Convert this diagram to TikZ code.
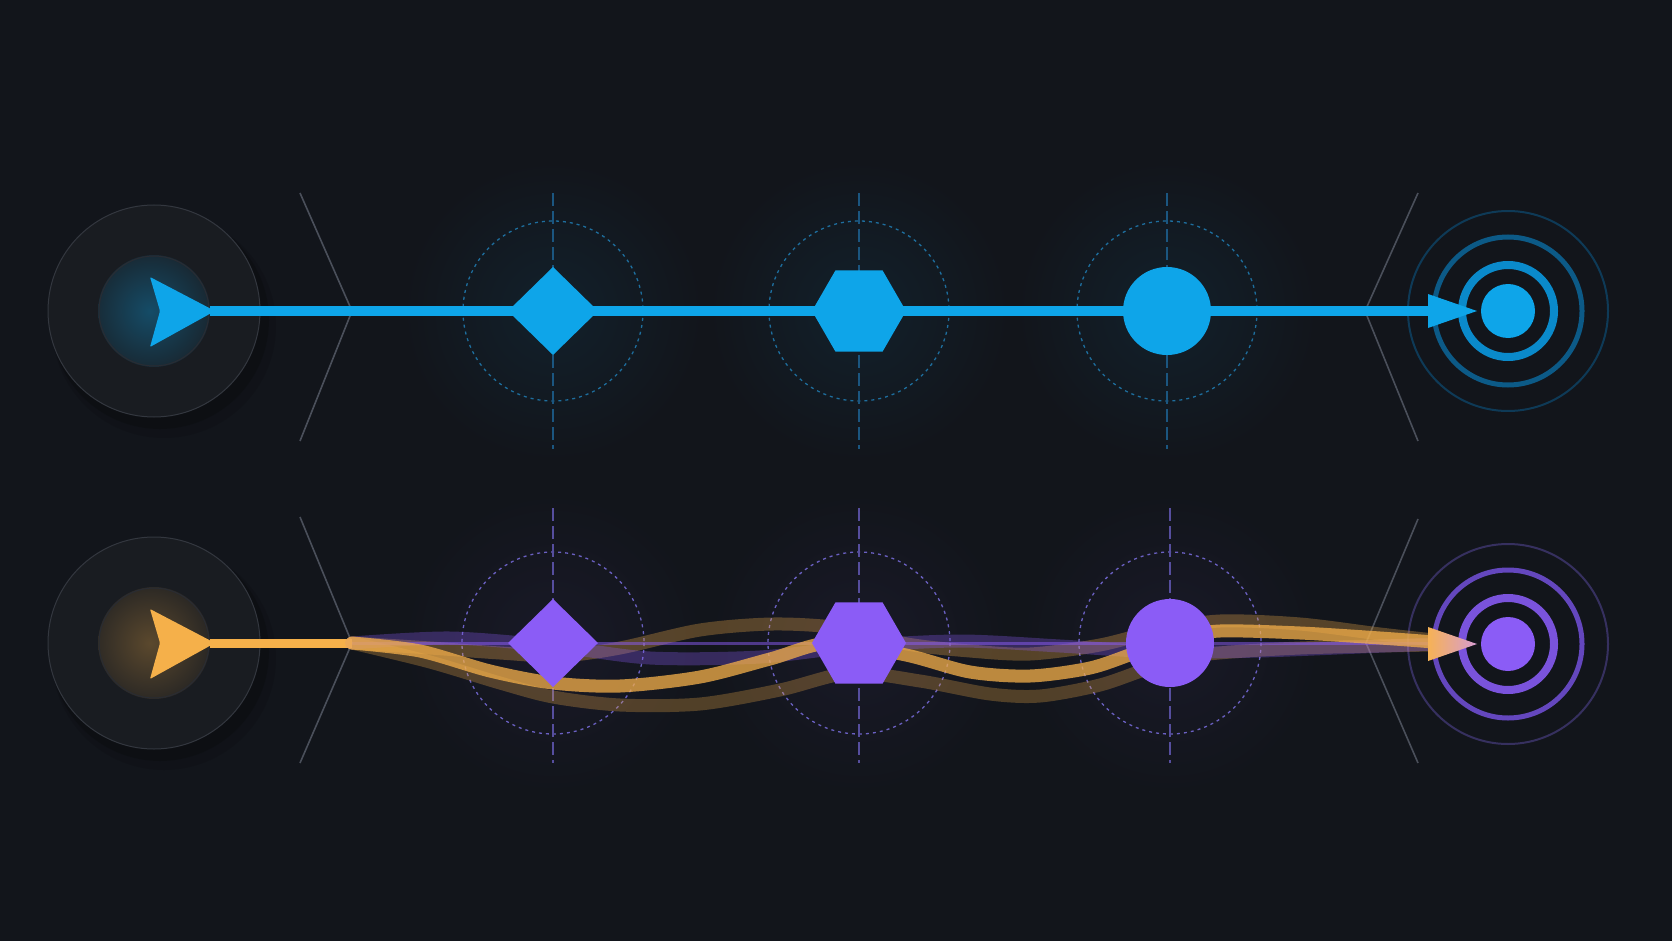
\documentclass[tikz,border=0pt]{standalone}
\usepackage{tikz}
\usetikzlibrary{shapes.geometric}
\definecolor{bgc}{HTML}{12151B}
\definecolor{discc}{HTML}{191C21}
\definecolor{discedge}{HTML}{33373F}
\definecolor{chevc}{HTML}{4A4F5A}
\definecolor{bluc}{HTML}{0EA5E9}
\definecolor{purc}{HTML}{8B5CF6}
\definecolor{orac}{HTML}{F5B04A}
\definecolor{bdash}{HTML}{1E6E9E}
\definecolor{bvert}{HTML}{1B5680}
\definecolor{pdash}{HTML}{6A60C2}
\definecolor{pvert}{HTML}{564E9E}
\definecolor{bring1}{HTML}{0A8ACB}
\definecolor{bring2}{HTML}{0C5A87}
\definecolor{bring3}{HTML}{0E3A57}
\definecolor{pring1}{HTML}{7A53DC}
\definecolor{pring2}{HTML}{6447BE}
\definecolor{pring3}{HTML}{36305F}

\begin{document}
\begin{tikzpicture}[x=1pt,y=-1pt]
\tikzstyle{every node}+=[inner sep=0pt,outer sep=0pt]
\tikzstyle{chev}=[chevc,line width=1.6pt]
\tikzstyle{bdashc}=[bdash,line width=1.3pt,dash pattern=on 3pt off 4pt]
\tikzstyle{bvline}=[bvert,line width=1.2pt,dash pattern=on 13pt off 5pt]
\tikzstyle{pdashc}=[pdash,line width=1.3pt,dash pattern=on 3pt off 4pt]
\tikzstyle{pvline}=[pvert,line width=1.2pt,dash pattern=on 13pt off 5pt]
\tikzstyle{disc}=[circle,fill=discc,draw=discedge,line width=1pt,minimum size=212pt]
\tikzstyle{strand}=[line width=13pt,line cap=round]
\fill [bgc] (0,0) rectangle (1672,941);
\useasboundingbox (0,0) rectangle (1672,941);
\shade [inner color=bluc!8!bgc, outer color=bgc] (553,311) circle (150);
\shade [inner color=bluc!8!bgc, outer color=bgc] (859,311) circle (150);
\shade [inner color=bluc!8!bgc, outer color=bgc] (1167,311) circle (150);
\shade [inner color=purc!6!bgc, outer color=bgc] (553,643) circle (150);
\shade [inner color=purc!6!bgc, outer color=bgc] (859,643) circle (150);
\shade [inner color=purc!6!bgc, outer color=bgc] (1170,643) circle (150);
\fill [black,opacity=0.15] (160,320) circle (109);
\fill [black,opacity=0.1] (164,326) circle (112);
\fill [black,opacity=0.15] (160,652) circle (109);
\fill [black,opacity=0.1] (164,658) circle (112);
\node [disc] (startA) at (154,311) {};
\node [disc] (startB) at (154,643) {};
\begin{scope}
\clip (startA) circle (56);
\shade [inner color=bluc!35!discc, outer color=discc] (150,311) circle (80);
\end{scope}
\begin{scope}
\clip (startB) circle (56);
\shade [inner color=orac!30!discc, outer color=discc] (150,643) circle (80);
\end{scope}
\draw [discedge!60!discc, line width=1pt] (startA) circle (55);
\draw [discedge!60!discc, line width=1pt] (startB) circle (55);
\draw [chev] (300,193) -- (352,311) -- (300,441);
\draw [chev] (1418,193) -- (1365,311) -- (1418,441);
\draw [chev] (300,517) -- (352,643) -- (300,763);
\draw [chev] (1418,519) -- (1366,643) -- (1418,763);
\draw [bdashc] (553,311) circle (90);
\draw [bdashc] (859,311) circle (90);
\draw [bdashc] (1167,311) circle (90);
\draw [bvline] (553,193) -- (553,449);
\draw [bvline] (859,193) -- (859,449);
\draw [bvline] (1167,193) -- (1167,449);
\draw [pdashc] (553,643) circle (91);
\draw [pdashc] (859,643) circle (91);
\draw [pdashc] (1170,643) circle (91);
\draw [pvline] (553,508) -- (553,763);
\draw [pvline] (859,508) -- (859,763);
\draw [pvline] (1170,508) -- (1170,763);
\draw [bring3, line width=2pt] (1508,311) circle (100);
\draw [bring2, line width=5pt] (1508,311) circle (74);
\draw [bring1, line width=8pt] (1508,311) circle (46);
\draw [pring3, line width=2pt] (1508,644) circle (100);
\draw [pring2, line width=5pt] (1508,644) circle (74);
\draw [pring1, line width=8pt] (1508,644) circle (46);
\node [circle, fill=bluc, minimum size=54pt] (tgtA) at (1508,311) {};
\node [circle, fill=purc, minimum size=54pt] (tgtB) at (1508,644) {};
\fill [bluc, rounded corners=1pt] (215,311) -- (150,277) -- (160,311) -- (150,347) -- cycle;
\fill [orac, rounded corners=1pt] (215,643) -- (150,609) -- (160,643) -- (150,679) -- cycle;
\coordinate (playA) at (210,311);
\coordinate (playB) at (210,643);
\coordinate (forkB) at (352,643);
\coordinate (joinB) at (1434,643);
\draw [bluc, line width=10pt, shorten >=48pt] (playA) -- (tgtA);
\fill [bluc] ([xshift=-4pt]tgtA.west) -- ++(-49,-17) -- ++(0,34) -- cycle;
\draw [orac, line width=9pt] (playB) -- (forkB);
\draw [strand, orac, opacity=0.28] plot [smooth] coordinates {(352,643) (430,662) (500,683) (553,697) (620,705) (700,704) (780,690) (850,673) (920,681) (990,694) (1040,696) (1100,685) (1150,668) (1200,655) (1300,648) (1434,645)};
\draw [strand, orac, opacity=0.3] plot [smooth] coordinates {(352,643) (430,648) (500,653) (560,656) (620,648) (700,630) (773,624) (840,628) (907,644) (970,651) (1030,654) (1100,645) (1160,630) (1220,621) (1300,624) (1380,634) (1434,640)};
\draw [strand, purc, opacity=0.3] plot [smooth] coordinates {(352,643) (450,638) (553,646) (650,658) (760,657) (860,646) (960,641) (1060,646) (1160,652) (1260,651) (1360,647) (1434,644)};
\draw [purc, opacity=0.5, line width=3pt] (forkB) -- (joinB);
\draw [strand, orac, opacity=0.75] plot [smooth] coordinates {(352,643) (420,651) (490,671) (553,683) (620,686) (700,677) (770,659) (830,643) (906,655) (970,672) (1030,676) (1090,668) (1135,653) (1180,638) (1220,631) (1300,633) (1380,638) (1434,642)};
\shade [left color=orac!90!pink, right color=purc!35!pink] ([xshift=-4pt]tgtB.west) -- ++(-49,-17) -- ++(0,34) -- cycle;
\node [diamond, fill=bluc, minimum width=90pt, minimum height=88pt] (dmA) at (553,311) {};
\node [regular polygon, regular polygon sides=6, fill=bluc, minimum size=94pt] (hxA) at (859,311) {};
\node [circle, fill=bluc, minimum size=88pt] (ciA) at (1167,311) {};
\node [diamond, fill=purc, minimum width=90pt, minimum height=88pt] (dmB) at (553,643) {};
\node [regular polygon, regular polygon sides=6, fill=purc, minimum size=94pt] (hxB) at (859,643) {};
\node [circle, fill=purc, minimum size=88pt] (ciB) at (1170,643) {};
\end{tikzpicture}
\end{document}
